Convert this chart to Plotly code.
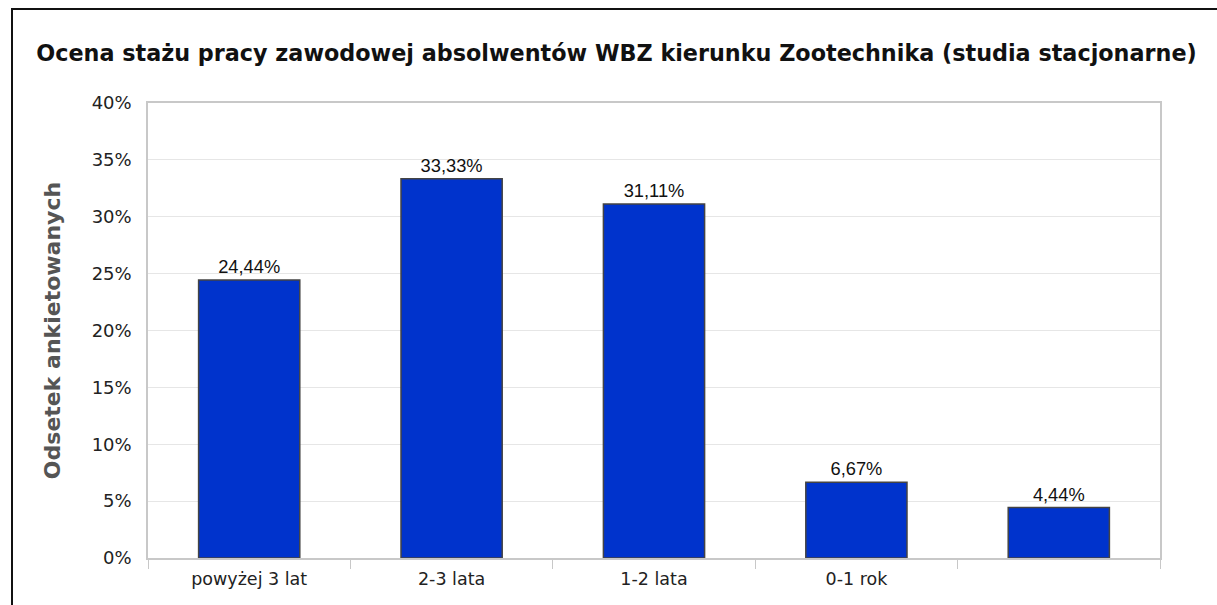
import plotly.graph_objects as go

categories = ["powyżej 3 lat", "2-3 lata", "1-2 lata", "0-1 rok", " "]
values = [24.44, 33.33, 31.11, 6.67, 4.44]
labels = [f"{v:.2f}".replace(".", ",") + "%" for v in values]
y_ticks = [0, 5, 10, 15, 20, 25, 30, 35, 40]
y_tick_text = [f"{t}%" for t in y_ticks]

fig = go.Figure(go.Bar(
    x=categories, y=values, text=labels, textposition="outside",
    textfont=dict(family="Liberation Sans", size=18.3, color="#111"),
    marker=dict(color="#0033cc", line=dict(color="#444", width=1.5)),
    width=0.5, cliponaxis=False,
))

W, H = 1217, 605
L, R, T, B = 148, 57, 103, 47
pw, ph = W - L - R, H - T - B

fig.update_layout(
    width=W, height=H,
    margin=dict(l=L, r=R, t=T, b=B),
    paper_bgcolor="white", plot_bgcolor="white",
    showlegend=False,
    title=dict(text="<b>Ocena stażu pracy zawodowej absolwentów WBZ kierunku Zootechnika (studia stacjonarne)</b>",
               font=dict(family="DejaVu Sans", size=22.3, color="#111"),
               x=(33 + 1200) / 2 / W, xanchor="center", y=1 - 53 / H, yanchor="middle"),
    xaxis=dict(tickson="boundaries", ticks="outside", ticklen=9, tickcolor="#c8c8c8",
               showline=True, linecolor="#c8c8c8", linewidth=1.5, mirror=True,
               showgrid=False, ticklabelstandoff=4,
               tickfont=dict(family="DejaVu Sans", size=17.5, color="#222")),
    yaxis=dict(range=[0, 40], tickvals=y_ticks, ticktext=y_tick_text,
               showline=True, linecolor="#c8c8c8", linewidth=1.5, mirror=True,
               showgrid=True, gridcolor="#e6e6e6", gridwidth=1, zeroline=False,
               ticks="", ticklabelstandoff=11,
               tickfont=dict(family="DejaVu Sans", size=18, color="#222"),
               title=dict(text="<b>Odsetek ankietowanych</b>", standoff=25,
                          font=dict(family="DejaVu Sans", size=22, color="#555"))),
    bargap=0.5,
)

fig.add_shape(type="rect", xref="paper", yref="paper",
              x0=(12 - L) / pw, x1=(1240 - L) / pw,
              y0=-(620 - (H - B)) / ph, y1=((H - B) - 9) / ph,
              line=dict(color="#111", width=2), fillcolor="rgba(0,0,0,0)", layer="above")

fig.write_html("out.html", config={"displayModeBar": False},
               post_script="document.body.style.margin='0';document.body.style.overflow='hidden';")
